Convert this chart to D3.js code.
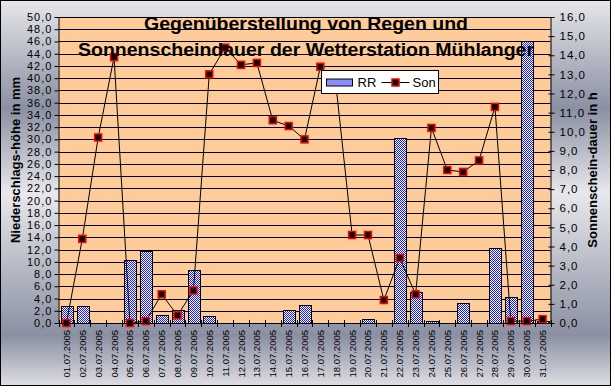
<!DOCTYPE html>
<html>
<head>
<meta charset="utf-8">
<script src="https://cdn.jsdelivr.net/npm/d3@7"></script>
<style>
  body { margin: 0; }
  svg { display: block; font-family: "Liberation Sans", Arial, sans-serif; }
</style>
</head>
<body>
<svg id="chart" width="611" height="386"></svg>
<script>
// categories and values
const days = ["01.07.2005", "02.07.2005", "03.07.2005", "04.07.2005", "05.07.2005", "06.07.2005",
  "07.07.2005", "08.07.2005", "09.07.2005", "10.07.2005", "11.07.2005", "12.07.2005",
  "13.07.2005", "14.07.2005", "15.07.2005", "16.07.2005", "17.07.2005", "18.07.2005",
  "19.07.2005", "20.07.2005", "21.07.2005", "22.07.2005", "23.07.2005", "24.07.2005",
  "25.07.2005", "26.07.2005", "27.07.2005", "28.07.2005", "29.07.2005", "30.07.2005", "31.07.2005"];

// Niederschlag (mm)
const rain = [2.8, 2.8, 0, 0, 10.3, 11.8, 1.3, 2.1, 8.7, 1.1, 0, 0, 0, 0, 2.2, 2.9,
  0, 0, 0, 0.6, 0, 30.2, 5.0, 0.3, 0, 3.2, 0, 12.2, 4.2, 46.1, 0.3];

// Sonnenscheindauer (h)
const sun = [0.0, 4.4, 9.7, 13.9, 0.0, 0.1, 1.5, 0.4, 1.7, 13.0, 14.4, 13.5, 13.6, 10.6, 10.3, 9.6,
  13.4, 12.3, 4.6, 4.6, 1.2, 3.4, 1.5, 10.2, 8.0, 7.9, 8.5, 11.3, 0.1, 0.1, 0.2];

const rainTicks = d3.range(0, 51, 2);
const sunTicks = d3.range(0, 17, 1);

const titleLines = ["Gegenüberstellung von Regen und", "Sonnenscheindauer der Wetterstation Mühlanger"];

const W = 611, H = 386;
const pLeft = 58.5, pRight = 550.5, pTop = 17, pBottom = 323;

const svg = d3.select("#chart");
const defs = svg.append("defs");

// metallic background
const grad = defs.append("linearGradient").attr("id", "bg")
  .attr("x1", 0).attr("y1", 0).attr("x2", 0).attr("y2", 1);
[[0, "#e6e6ea"], [0.28, "#8a90a2"], [0.5, "#e8e8ec"], [0.87, "#8a90a2"], [1, "#dedee2"]]
  .forEach(s => grad.append("stop").attr("offset", s[0]).attr("stop-color", s[1]));

// blue / white checker for the bars
const pat = defs.append("pattern").attr("id", "check")
  .attr("width", 2).attr("height", 2).attr("patternUnits", "userSpaceOnUse");
pat.append("rect").attr("width", 2).attr("height", 2).attr("fill", "#ffffff");
pat.append("rect").attr("width", 1).attr("height", 1).attr("fill", "#1a1aff");
pat.append("rect").attr("x", 1).attr("y", 1).attr("width", 1).attr("height", 1).attr("fill", "#1a1aff");

svg.append("rect").attr("x", 0.5).attr("y", 0.5).attr("width", W - 1).attr("height", H - 1)
  .attr("fill", "url(#bg)").attr("stroke", "#000");

const x = d3.scaleBand().domain(days).range([pLeft, pRight]).paddingInner(0.27).paddingOuter(0.135);
const yRain = d3.scaleLinear().domain([0, 50]).range([pBottom, pTop]);
const ySun = d3.scaleLinear().domain([0, 16]).range([pBottom, pTop]);
const cx = d => x(d) + x.bandwidth() / 2;
const comma = v => d3.format(".1f")(v).replace(".", ",");

// plot area
svg.append("rect").attr("x", pLeft).attr("y", pTop).attr("width", pRight - pLeft).attr("height", pBottom - pTop)
  .attr("fill", "#ffcc99");

// gridlines
svg.append("g").selectAll("line").data(rainTicks).join("line")
  .attr("x1", pLeft).attr("x2", pRight)
  .attr("y1", d => Math.round(yRain(d)) + 0.5).attr("y2", d => Math.round(yRain(d)) + 0.5)
  .attr("stroke", "#000");

// bars
svg.append("g").selectAll("rect").data(days.map((d, i) => ({ day: d, v: rain[i] })).filter(d => d.v > 0))
  .join("rect")
  .attr("x", d => Math.round(x(d.day)) + 0.5)
  .attr("y", d => Math.round(yRain(d.v)) + 0.5)
  .attr("width", Math.round(x.bandwidth()))
  .attr("height", d => Math.round(yRain(0)) - Math.round(yRain(d.v)))
  .attr("fill", "url(#check)").attr("stroke", "#000");

// sunshine line
const line = d3.line().x((d, i) => cx(days[i])).y(d => ySun(d));
svg.append("path").datum(sun).attr("d", line).attr("fill", "none").attr("stroke", "#000").attr("stroke-width", 1);

svg.append("g").selectAll("rect").data(sun).join("rect")
  .attr("x", (d, i) => cx(days[i]) - 3.5).attr("y", d => ySun(d) - 3.5)
  .attr("width", 7).attr("height", 7)
  .attr("fill", "#000").attr("stroke", "#ff0000").attr("stroke-width", 1.5);

// left axis
const axL = d3.axisLeft(yRain).tickValues(rainTicks).tickFormat(comma).tickSize(4).tickPadding(2);
const gL = svg.append("g").attr("transform", `translate(${pLeft},0)`).call(axL);
gL.select(".domain").attr("d", `M0.5,${pTop}V${pBottom}`).attr("stroke", "#000");
gL.selectAll("text").attr("font-size", 10.9).attr("letter-spacing", 1.1)
  .attr("font-family", "'Liberation Sans', Arial, sans-serif").attr("fill", "#000");

// right axis
const axR = d3.axisRight(ySun).tickValues(sunTicks).tickFormat(comma).tickSize(4).tickPadding(5);
const gR = svg.append("g").attr("transform", `translate(${pRight},0)`).call(axR);
gR.select(".domain").attr("d", `M0.5,${pTop}V${pBottom}`).attr("stroke", "#000");
gR.selectAll(".tick line").attr("x1", -2);
gR.selectAll("text").attr("font-size", 11.5).attr("letter-spacing", 1)
  .attr("font-family", "'Liberation Sans', Arial, sans-serif").attr("fill", "#000");

// bottom axis
svg.append("line").attr("x1", pLeft).attr("x2", pRight + 1)
  .attr("y1", pBottom + 0.5).attr("y2", pBottom + 0.5).attr("stroke", "#000");
const step = x.step();
svg.append("g").selectAll("line").data(d3.range(days.length + 1)).join("line")
  .attr("x1", i => Math.round(pLeft + i * step) + 0.5).attr("x2", i => Math.round(pLeft + i * step) + 0.5)
  .attr("y1", pBottom - 3).attr("y2", pBottom + 4).attr("stroke", "#000");
svg.append("g").selectAll("text").data(days).join("text")
  .attr("transform", d => `translate(${cx(d) + 3.5},${pBottom + 7}) rotate(-90)`)
  .attr("text-anchor", "end").attr("font-size", 9.5).text(d => d);

// axis titles
svg.append("text").attr("transform", "translate(20,160) rotate(-90)")
  .attr("text-anchor", "middle").attr("font-weight", "bold").attr("font-size", 13)
  .text("Niederschlags-höhe in mm");
svg.append("text").attr("transform", "translate(597,170) rotate(-90)")
  .attr("text-anchor", "middle").attr("font-weight", "bold").attr("font-size", 13)
  .text("Sonnenschein-dauer in h");

// legend (drawn over the line, hides the 18.07 point like the original)
const lg = svg.append("g").attr("transform", "translate(321.5,70.5)");
lg.append("rect").attr("width", 117).attr("height", 23).attr("fill", "#fff").attr("stroke", "#000");
lg.append("rect").attr("x", 5).attr("y", 8.5).attr("width", 26).attr("height", 7)
  .attr("fill", "url(#check)").attr("stroke", "#000");
lg.append("text").attr("x", 36).attr("y", 16.5).attr("font-size", 13).text("RR");
lg.append("line").attr("x1", 60).attr("x2", 88).attr("y1", 12).attr("y2", 12).attr("stroke", "#000");
lg.append("rect").attr("x", 70.5).attr("y", 8.5).attr("width", 7).attr("height", 7)
  .attr("fill", "#000").attr("stroke", "#ff0000").attr("stroke-width", 1.5);
lg.append("text").attr("x", 91).attr("y", 16.5).attr("font-size", 13).text("Son");

// title (wide bold face, stretched to the original widths)
const titleWidths = [324, 456];
svg.append("g").selectAll("text").data(titleLines).join("text")
  .attr("x", 306).attr("y", (d, i) => 29.5 + i * 26)
  .attr("text-anchor", "middle").attr("font-weight", "bold").attr("font-size", 17.5)
  .attr("textLength", (d, i) => titleWidths[i]).attr("lengthAdjust", "spacingAndGlyphs")
  .text(d => d);
</script>
</body>
</html>
